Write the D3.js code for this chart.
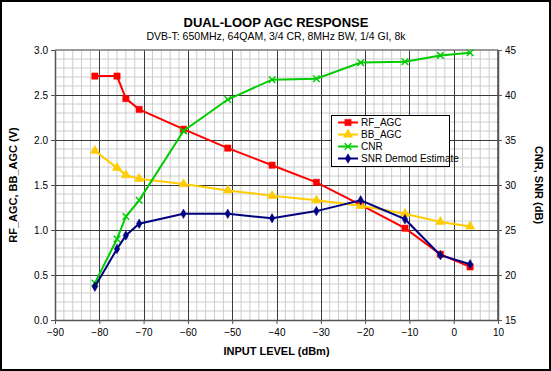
<!DOCTYPE html>
<html>
<head>
<meta charset="utf-8">
<script src="https://cdn.jsdelivr.net/npm/d3@7"></script>
<style>
    body { margin: 0; background: #fff; }
    text { font-family: "Liberation Sans", Arial, sans-serif; }
</style>
</head>
<body>
<svg id="graph1" width="551" height="371"></svg>
<script>
// values
const inputLevel = [-81, -76, -74, -71, -61, -51, -41, -31, -21, -11, -3, 3.7];
const rfAgc = [2.71, 2.71, 2.46, 2.34, 2.12, 1.91, 1.72, 1.53, 1.28, 1.02, 0.73, 0.59];
const bbAgc = [1.88, 1.69, 1.61, 1.57, 1.51, 1.44, 1.38, 1.33, 1.27, 1.18, 1.09, 1.04];
const cnr = [19.1, 24.0, 26.5, 28.3, 36.0, 39.5, 41.7, 41.8, 43.6, 43.7, 44.4, 44.7];
const snr = [18.7, 22.9, 24.4, 25.7, 26.8, 26.8, 26.3, 27.1, 28.3, 26.2, 22.2, 21.2];
const xTicks = [-90, -80, -70, -60, -50, -40, -30, -20, -10, 0, 10];
const leftTicks = [0, 0.5, 1, 1.5, 2, 2.5, 3];
const rightTicks = [15, 20, 25, 30, 35, 40, 45];
const seriesNames = ["RF_AGC", "BB_AGC", "CNR", "SNR Demod Estimate"];

const margin = { top: 50, right: 53, bottom: 51, left: 55 },
    width = 551 - margin.left - margin.right,
    height = 371 - margin.top - margin.bottom;

const root = d3.select("#graph1");

root.append("rect")
    .attr("x", 1).attr("y", 1)
    .attr("width", 549).attr("height", 369)
    .attr("fill", "#fff")
    .attr("stroke", "#000")
    .attr("stroke-width", 2);

let svg = root.append("g")
    .attr("transform", "translate(" + margin.left + "," + margin.top + ")");

let x = d3.scaleLinear().domain([-90, 10]).range([0, width]);
let yL = d3.scaleLinear().domain([0, 3]).range([height, 0]);
let yR = d3.scaleLinear().domain([15, 45]).range([height, 0]);

// minor grid
svg.append("g")
    .selectAll("line")
    .data(d3.range(-88, 10, 2).filter(v => v % 10 != 0))
    .enter().append("line")
    .attr("x1", d => x(d)).attr("x2", d => x(d))
    .attr("y1", 0).attr("y2", height)
    .attr("stroke", "#cccccc");

svg.append("g")
    .selectAll("line")
    .data(d3.range(1, 30).filter(v => v % 5 != 0).map(v => v / 10))
    .enter().append("line")
    .attr("y1", d => yL(d)).attr("y2", d => yL(d))
    .attr("x1", 0).attr("x2", width)
    .attr("stroke", "#cccccc");

// major grid
svg.append("g")
    .selectAll("line")
    .data(xTicks.slice(1, -1))
    .enter().append("line")
    .attr("x1", d => Math.round(x(d)) + 0.5).attr("x2", d => Math.round(x(d)) + 0.5)
    .attr("y1", 0).attr("y2", height)
    .attr("stroke", "#3a3a3a");

svg.append("g")
    .selectAll("line")
    .data(leftTicks.slice(1, -1))
    .enter().append("line")
    .attr("y1", d => Math.round(yL(d)) + 0.5).attr("y2", d => Math.round(yL(d)) + 0.5)
    .attr("x1", 0).attr("x2", width)
    .attr("stroke", "#3a3a3a");

// frame
svg.append("line").attr("x1", 0).attr("x2", width).attr("y1", 0).attr("y2", 0)
    .attr("stroke", "#777").attr("stroke-width", 1.5);
svg.append("line").attr("x1", width).attr("x2", width).attr("y1", 0).attr("y2", height)
    .attr("stroke", "#555").attr("stroke-width", 1.5);

// axes
const axisStyle = g => {
    g.select(".domain").attr("stroke", "#555").attr("stroke-width", 1.5);
    g.selectAll(".tick line").attr("stroke", "#555");
    g.selectAll("text").attr("font-size", "10px").attr("fill", "#000")
        .style("font-family", "'Liberation Sans', Arial, sans-serif");
};

svg.append("g")
    .attr("transform", "translate(0," + height + ")")
    .call(d3.axisBottom(x).tickValues(xTicks).tickFormat(d3.format("d")).tickSizeInner(4).tickSizeOuter(0).tickPadding(5))
    .call(axisStyle);

svg.append("g")
    .call(d3.axisLeft(yL).tickValues(leftTicks).tickFormat(d3.format(".1f")).tickSizeInner(4).tickSizeOuter(0).tickPadding(3))
    .call(axisStyle);

svg.append("g")
    .attr("transform", "translate(" + width + ",0)")
    .call(d3.axisRight(yR).tickValues(rightTicks).tickFormat(d3.format("d")).tickSizeInner(4).tickSizeOuter(0).tickPadding(3))
    .call(axisStyle);

// titles
root.append("text")
    .attr("x", 276).attr("y", 27)
    .attr("text-anchor", "middle")
    .attr("font-size", "13px").attr("font-weight", "bold")
    .text("DUAL-LOOP AGC RESPONSE");

root.append("text")
    .attr("x", 276).attr("y", 40)
    .attr("text-anchor", "middle")
    .attr("font-size", "10.5px")
    .text("DVB-T: 650MHz, 64QAM, 3/4 CR, 8MHz BW, 1/4 GI, 8k");

root.append("text")
    .attr("x", margin.left + width / 2).attr("y", 355)
    .attr("text-anchor", "middle")
    .attr("font-size", "11px").attr("font-weight", "bold")
    .text("INPUT LEVEL (dBm)");

root.append("text")
    .attr("transform", "translate(17," + (margin.top + height / 2) + ") rotate(-90)")
    .attr("text-anchor", "middle")
    .attr("font-size", "11px").attr("font-weight", "bold")
    .text("RF_AGC, BB_AGC (V)");

root.append("text")
    .attr("transform", "translate(535," + (margin.top + height / 2) + ") rotate(90)")
    .attr("text-anchor", "middle")
    .attr("font-size", "11px").attr("font-weight", "bold")
    .text("CNR, SNR (dB)");

// series
const series = [
    { name: seriesNames[0], values: rfAgc, y: yL, color: "#ff0000", marker: d3.symbolSquare, size: 40 },
    { name: seriesNames[1], values: bbAgc, y: yL, color: "#ffcc00", marker: d3.symbolTriangle, size: 38 },
    { name: seriesNames[2], values: cnr, y: yR, color: "#00cc00", marker: d3.symbolX, size: 30 },
    { name: seriesNames[3], values: snr, y: yR, color: "#000080", marker: d3.symbolDiamond, size: 26 }
];

const drawMarker = (sel, s) => {
    const isX = s.marker === d3.symbolX;
    sel.attr("d", d3.symbol().type(s.marker).size(s.size))
        .attr("fill", isX ? "none" : s.color)
        .attr("stroke", s.color)
        .attr("stroke-width", isX ? 1.5 : 0.5);
};

series.forEach(s => {
    const line = d3.line()
        .x((d, i) => x(inputLevel[i]))
        .y(d => s.y(d));

    svg.append("path")
        .datum(s.values)
        .attr("d", line)
        .attr("fill", "none")
        .attr("stroke", s.color)
        .attr("stroke-width", 2);

    svg.selectAll(null)
        .data(s.values)
        .enter()
        .append("path")
        .attr("transform", (d, i) => "translate(" + x(inputLevel[i]) + "," + s.y(d) + ")")
        .call(drawMarker, s);
});

// legend
let legend = root.append("g").attr("transform", "translate(331,115)");

legend.append("rect")
    .attr("x", 0.5).attr("y", 0.5)
    .attr("width", 118).attr("height", 51)
    .attr("fill", "#fff")
    .attr("stroke", "#000");

series.forEach((s, i) => {
    const ly = 7.5 + i * 12;
    legend.append("line")
        .attr("x1", 7).attr("x2", 27)
        .attr("y1", ly).attr("y2", ly)
        .attr("stroke", s.color).attr("stroke-width", 2);
    legend.append("path")
        .attr("transform", "translate(17," + ly + ")")
        .call(drawMarker, s);
    legend.append("text")
        .attr("x", 30).attr("y", ly + 3.5)
        .attr("font-size", "10px")
        .text(s.name);
});
</script>
</body>
</html>
